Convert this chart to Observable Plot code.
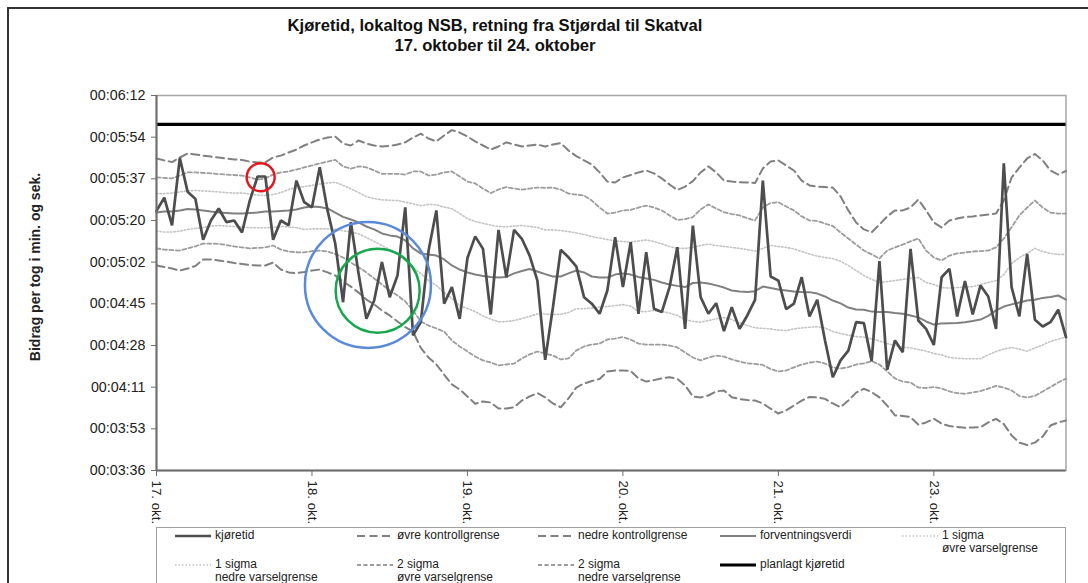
<!DOCTYPE html>
<html>
<head>
<meta charset="utf-8">
<script src="https://cdn.jsdelivr.net/npm/d3@7"></script>
<script src="https://cdn.jsdelivr.net/npm/@observablehq/plot@0.6"></script>
<style>
  body { margin: 0; background: #fff; font-family: "Liberation Sans", Arial, sans-serif; }
  #page { position: relative; width: 1088px; height: 583px; overflow: hidden; background: #fff; }
  #frame { position: absolute; left: 7px; top: 7px; width: 1200px; height: 700px; border: 2px solid #333; }
  #title { position: absolute; left: 0; top: 16px; width: 990px; text-align: center; font-weight: bold;
           font-size: 16.6px; line-height: 19.5px; color: #111; }
  #chart { position: absolute; left: 0; top: 60px; }
  #legend { position: absolute; left: 156px; top: 527px; width: 908px; height: 80px;
            border: 1.5px solid #a0a0a0; background: #fff; }
  .li { position: absolute; font-size: 12px; line-height: 13px; color: #222; white-space: nowrap; }
  .ls { position: absolute; }
</style>
</head>
<body>
<div id="page">
  <div id="frame"></div>
  <div id="title">Kjøretid, lokaltog NSB, retning fra Stjørdal til Skatval<br>17. oktober til 24. oktober</div>
  <div id="chart"></div>
  <div id="legend"></div>
</div>
<script>
// ---- data (seconds per train), one value per train ----
const kjoretid = [
  324, 329.5, 318, 346, 332, 329, 312, 320, 325, 319.3,
  320, 315, 328.3, 338.3, 338.3, 312, 320, 318, 336.6, 327.6,
  325.5, 342.2, 324.2, 310.3, 286, 319.3, 297.8, 279.1, 286.7, 302.7,
  288.1, 297.1, 325.5, 272.2, 277.7, 307.5, 324.2, 285.4, 292.3, 279.1,
  304.4, 313.4, 308.2, 280.9, 316.1, 296.4, 316.1, 312.4, 305.4, 295,
  262, 283.9, 307.8, 304.7, 300.9, 288.1, 285.4, 281.2, 290.9, 313.1,
  292.3, 311, 281.2, 306.8, 283.3, 281.9, 292.3, 308.9, 274.9, 317.9,
  288.1, 281.2, 285.6, 274, 283.9, 274.9, 280.5, 287, 336.6, 296.7,
  295, 283.1, 285.4, 296.4, 280.1, 287, 270.1, 254.8, 261.8, 265.9,
  277.7, 277.3, 261.5, 303.1, 257.9, 270.1, 265.2, 308.2, 278.4, 274.9,
  268.2, 296.4, 299.9, 280.1, 294.8, 280.9, 293, 288.4, 274.9, 343.8,
  292.3, 280.1, 306.1, 278.7, 275.9, 277.7, 282.9, 271.5
];
const forventningsverdi = [
  323.3, 323.7, 323.7, 324.2, 324.8, 324.6, 324.2, 323.7, 323.3, 323.1,
  322.9, 322.9, 323.1, 323.3, 323.7, 323.7, 324.0, 324.2, 324.6, 325.4,
  325.8, 325.6, 325.0, 323.3, 321.5, 320.4, 319.2, 317.5, 316.3, 314.6,
  313.8, 313.3, 311.7, 308.4, 306.3, 305.9, 305.4, 303.8, 301.3, 299.6,
  298.4, 297.5, 296.9, 296.5, 296.3, 296.5, 298.0, 299.0, 299.8, 298.8,
  297.7, 296.7, 296.7, 298.0, 299.2, 298.4, 296.7, 296.3, 296.3, 297.5,
  298.0, 297.5, 296.5, 295.9, 295.3, 294.2, 293.4, 292.8, 292.3, 294.0,
  294.2, 293.8, 293.0, 292.1, 290.9, 290.5, 290.3, 290.6, 292.5, 291.9,
  291.3, 290.9, 290.5, 290.3, 290.2, 289.6, 288.4, 286.7, 285.5, 283.8,
  283.0, 282.9, 282.1, 281.9, 281.9, 281.5, 281.2, 280.5, 279.7, 278.0,
  276.7, 277.2, 277.3, 277.4, 277.7, 278.2, 278.8, 280.3, 282.6, 284.2,
  285.1, 285.9, 286.7, 287.0, 287.8, 288.2, 288.8, 287.1
];
const ovreKontrollgrense = [
  345.8, 345.0, 344.3, 346.2, 347.9, 347.5, 347.0, 346.6, 346.2, 345.8,
  345.4, 345.2, 344.5, 344.1, 344.2, 346.2, 347.0, 348.3, 349.5, 351.2,
  352.5, 353.7, 354.5, 354.9, 352.0, 351.2, 353.3, 352.0, 351.2, 350.8,
  351.0, 351.6, 352.5, 354.5, 356.1, 354.1, 352.9, 355.4, 357.6, 356.6,
  354.9, 352.9, 351.2, 349.5, 350.8, 352.5, 351.6, 350.8, 351.2, 351.6,
  350.8, 351.6, 352.2, 349.1, 346.8, 345.0, 343.3, 340.0, 336.2, 335.8,
  337.9, 338.9, 340.0, 340.8, 339.6, 337.5, 335.0, 332.7, 334.1, 336.4,
  340.0, 342.5, 340.0, 336.6, 336.2, 335.9, 335.8, 335.6, 341.6, 344.5,
  345.0, 342.9, 340.8, 336.6, 334.6, 334.1, 333.9, 333.7, 330.0, 324.2,
  319.2, 316.3, 315.1, 318.3, 321.7, 324.2, 324.2, 325.4, 328.7, 324.2,
  319.2, 317.1, 320.0, 320.8, 321.5, 321.7, 322.1, 322.5, 322.9, 328.3,
  337.9, 342.0, 345.8, 347.7, 345.0, 340.8, 339.1, 340.6
];
const ovreVarsel2 = [
  337.9, 337.7, 337.5, 338.7, 340.0, 340.0, 339.8, 339.6, 339.3, 339.1,
  338.9, 338.7, 337.9, 337.0, 337.5, 339.1, 340.0, 340.4, 341.2, 342.1,
  342.9, 343.7, 344.5, 345.2, 342.5, 341.6, 342.5, 342.1, 340.8, 339.4,
  339.4, 339.4, 339.1, 340.4, 340.4, 338.7, 339.1, 340.0, 340.4, 338.3,
  336.2, 335.4, 333.3, 331.4, 332.9, 333.9, 333.3, 332.8, 333.3, 333.7,
  333.6, 333.7, 332.9, 331.2, 330.8, 330.4, 328.3, 325.4, 322.9, 323.3,
  324.2, 324.4, 325.4, 326.2, 325.4, 324.2, 322.1, 320.2, 320.6, 321.4,
  324.6, 326.7, 325.0, 323.5, 322.7, 322.1, 321.0, 320.0, 325.4, 327.3,
  327.6, 325.8, 324.2, 321.7, 320.0, 319.8, 318.7, 317.7, 315.0, 312.5,
  310.0, 307.5, 305.9, 304.2, 307.5, 308.8, 310.0, 311.3, 312.5, 307.5,
  304.6, 303.4, 305.4, 306.3, 306.7, 307.1, 307.3, 307.5, 308.8, 312.5,
  317.2, 322.1, 325.4, 328.3, 325.4, 323.3, 322.9, 322.9
];
const ovreVarsel1 = [
  331.2, 331.2, 331.4, 331.9, 332.3, 332.5, 332.3, 332.1, 331.9, 331.6,
  331.4, 331.4, 331.0, 330.6, 330.4, 330.8, 331.6, 332.9, 333.7, 334.1,
  334.6, 335.2, 335.6, 335.9, 334.6, 333.2, 331.6, 330.0, 329.1, 328.6,
  328.4, 328.3, 327.7, 326.9, 326.2, 326.7, 326.5, 325.6, 324.9, 322.9,
  320.8, 319.6, 318.8, 318.1, 317.5, 317.3, 317.7, 317.9, 317.5, 317.1,
  316.1, 316.1, 315.8, 315.4, 314.8, 314.2, 313.3, 312.7, 312.1, 311.5,
  311.3, 311.0, 311.5, 311.9, 311.3, 310.3, 309.2, 308.4, 308.4, 308.8,
  309.6, 310.2, 309.6, 309.2, 308.8, 308.4, 307.9, 307.3, 308.4, 309.6,
  309.2, 308.8, 308.2, 307.1, 306.1, 305.2, 304.6, 304.2, 303.0, 301.3,
  299.2, 297.1, 295.5, 294.2, 294.6, 295.0, 295.5, 295.9, 296.3, 294.2,
  293.4, 292.1, 291.9, 292.1, 292.3, 292.5, 293.4, 294.2, 295.0, 297.5,
  302.1, 304.6, 306.3, 308.4, 307.1, 306.3, 305.9, 305.9
];
const nedreVarsel1 = [
  315.6, 315.2, 315.2, 315.6, 316.3, 316.7, 317.1, 317.7, 317.9, 317.7,
  317.5, 317.3, 317.0, 317.0, 317.0, 317.1, 317.5, 317.3, 317.0, 316.3,
  316.5, 316.5, 316.5, 316.3, 315.8, 315.2, 314.5, 312.9, 311.3, 309.6,
  307.9, 306.3, 303.4, 300.4, 297.9, 295.0, 293.0, 290.0, 287.6, 284.6,
  283.4, 282.1, 280.3, 279.0, 277.8, 278.0, 278.4, 279.2, 280.1, 281.1,
  281.1, 280.9, 281.0, 281.7, 283.3, 283.3, 283.6, 284.0, 284.2, 284.6,
  285.0, 284.4, 282.1, 282.1, 282.6, 282.1, 281.5, 280.5, 278.8, 278.0,
  277.7, 278.4, 279.1, 279.6, 278.8, 277.4, 276.3, 275.4, 275.1, 274.9,
  274.4, 274.2, 274.9, 275.3, 275.6, 275.8, 275.3, 273.8, 273.0, 272.3,
  271.7, 271.5, 270.7, 269.9, 268.8, 268.0, 267.3, 267.0, 266.3, 265.7,
  264.7, 264.1, 263.0, 262.7, 262.5, 262.5, 262.5, 264.1, 265.5, 266.5,
  267.2, 266.5, 265.6, 267.0, 268.2, 269.7, 270.7, 271.5
];
const nedreVarsel2 = [
  308.4, 307.9, 307.7, 307.5, 308.4, 309.2, 310.4, 310.4, 310.3, 309.8,
  309.2, 308.8, 308.4, 308.6, 308.8, 309.6, 307.9, 307.1, 306.8, 306.7,
  307.3, 307.5, 307.1, 306.1, 304.6, 302.5, 300.6, 298.4, 295.9, 293.4,
  290.9, 288.8, 286.3, 282.6, 278.0, 276.3, 275.1, 273.8, 270.1, 267.6,
  265.5, 263.4, 261.8, 260.9, 259.7, 260.1, 260.5, 262.6, 264.3, 265.5,
  264.7, 263.8, 262.2, 262.6, 265.9, 267.6, 268.4, 268.8, 270.5, 270.9,
  271.5, 270.5, 268.8, 268.4, 268.4, 268.4, 268.0, 267.2, 265.1, 263.0,
  261.8, 263.0, 263.8, 263.4, 262.2, 261.3, 260.6, 260.3, 259.9, 258.2,
  257.2, 257.6, 258.9, 260.1, 260.9, 261.3, 260.5, 258.9, 258.4, 259.0,
  260.1, 260.6, 261.5, 260.1, 257.2, 254.3, 253.0, 252.6, 250.5, 250.3,
  250.7, 250.1, 248.9, 248.2, 247.9, 248.5, 249.0, 250.1, 251.2, 250.5,
  249.3, 247.0, 246.4, 247.0, 248.9, 250.7, 252.6, 254.2
];
const nedreKontrollgrense = [
  301.3, 300.7, 300.0, 299.2, 300.0, 301.1, 303.8, 303.8, 303.4, 302.9,
  302.3, 301.9, 301.5, 301.3, 301.3, 302.5, 299.6, 298.4, 298.1, 298.6,
  299.2, 299.6, 298.4, 297.1, 294.6, 292.5, 290.0, 287.1, 285.1, 282.6,
  280.5, 278.0, 275.6, 273.8, 267.0, 263.0, 260.1, 255.9, 251.8, 249.7,
  246.8, 243.8, 244.7, 244.3, 241.8, 241.8, 242.3, 245.1, 246.8, 248.2,
  246.4, 243.9, 242.3, 246.0, 250.5, 252.2, 253.2, 254.1, 257.2, 257.6,
  257.6, 257.4, 254.3, 253.0, 253.6, 254.3, 254.8, 254.1, 251.4, 246.8,
  246.4, 247.2, 248.9, 249.3, 246.5, 245.7, 245.3, 245.1, 243.9, 241.7,
  239.7, 241.0, 243.0, 245.1, 246.6, 246.4, 245.8, 243.9, 242.3, 245.1,
  248.4, 250.0, 248.6, 246.4, 243.0, 238.9, 238.7, 238.2, 235.1, 236.0,
  237.5, 235.5, 234.5, 234.1, 233.8, 233.9, 234.0, 236.0, 237.5, 235.3,
  230.6, 227.6, 226.6, 227.6, 230.1, 234.7, 236.0, 236.8
];
const planlagtKjoretid = 360;

// axis ticks
const dagStart = [0, 20, 40, 60, 80, 100];
const dagEtiketter = ["17. okt.", "18. okt.", "19. okt.", "20. okt.", "21. okt.", "23. okt."];
const yTickVerdier = [216, 233.33, 250.67, 268, 285.33, 302.67, 320, 337.33, 354.67, 372];
const yTickEtiketter = ["00:03:36", "00:03:53", "00:04:11", "00:04:28", "00:04:45",
                        "00:05:02", "00:05:20", "00:05:37", "00:05:54", "00:06:12"];

// highlight circles drawn on the chart (train index, seconds)
const markering = [
  {tog: 13.4, sek: 338.0, farge: "#e3191f"},
  {tog: 27.2, sek: 293.2, farge: "#5b8bd6"},
  {tog: 28.45, sek: 290.8, farge: "#16a84c"}
];

const stil = {
  kjoretid: {stroke: "#4d4d4d", strokeWidth: 2.7},
  kontroll: {stroke: "#808080", strokeWidth: 2, strokeDasharray: "8,4.5"},
  sigma2: {stroke: "#9c9c9c", strokeWidth: 1.8, strokeDasharray: "4,2.5"},
  sigma1: {stroke: "#c4c4c4", strokeWidth: 1.6, strokeDasharray: "1.5,2"},
  forv: {stroke: "#808080", strokeWidth: 2},
  plan: {stroke: "#000", strokeWidth: 3.2}
};

const chart = Plot.plot({
  width: 1088,
  height: 470,
  marginLeft: 156,
  marginRight: 22.5,
  marginTop: 35,
  marginBottom: 60,
  style: {fontFamily: "'Liberation Sans', Arial, sans-serif", color: "#222", background: "transparent"},
  x: {domain: [0, kjoretid.length - 1]},
  y: {domain: [216, 372]},
  color: {type: "identity"},
  marks: [
    Plot.frame({stroke: "#a6a6a6", strokeWidth: 1.5}),
    Plot.lineY(nedreKontrollgrense, {...stil.kontroll}),
    Plot.lineY(ovreKontrollgrense, {...stil.kontroll}),
    Plot.lineY(nedreVarsel2, {...stil.sigma2}),
    Plot.lineY(ovreVarsel2, {...stil.sigma2}),
    Plot.lineY(nedreVarsel1, {...stil.sigma1}),
    Plot.lineY(ovreVarsel1, {...stil.sigma1}),
    Plot.lineY(forventningsverdi, {...stil.forv}),
    Plot.lineY(kjoretid, {...stil.kjoretid, strokeLinejoin: "miter"}),
    Plot.ruleY([planlagtKjoretid], {...stil.plan}),
    Plot.ruleX([0], {stroke: "#6e6e6e", strokeWidth: 2}),
    Plot.ruleY([216], {stroke: "#6e6e6e", strokeWidth: 2}),
    Plot.axisY({ticks: yTickVerdier, tickFormat: d => yTickEtiketter[yTickVerdier.indexOf(d)],
      tickSize: 5, tickPadding: 6, fontSize: 14.3, label: null, stroke: "#6e6e6e"}),
    Plot.axisX({ticks: dagStart, tickFormat: d => dagEtiketter[dagStart.indexOf(d)],
      tickRotate: 90, tickSize: 6, tickPadding: 4, fontSize: 13.3, label: null, stroke: "#6e6e6e"}),
    Plot.text(["Bidrag per tog i min. og sek."], {frameAnchor: "left", textAnchor: "middle",
      lineAnchor: "middle", rotate: -90, dx: -121, dy: -16,
      fontWeight: "bold", fontSize: 14, fill: "#222"}),
    Plot.dot([markering[0]], {x: "tog", y: "sek", r: 14, stroke: "farge", strokeWidth: 2.5, fill: "none"}),
    Plot.dot([markering[1]], {x: "tog", y: "sek", r: 63, stroke: "farge", strokeWidth: 2.5, fill: "none"}),
    Plot.dot([markering[2]], {x: "tog", y: "sek", r: 42, stroke: "farge", strokeWidth: 2.5, fill: "none"})
  ]
});
document.getElementById("chart").appendChild(chart);

// ---- legend ----
const legendItems = [
  {text: "kjøretid", s: stil.kjoretid, col: 0, row: 0},
  {text: "øvre kontrollgrense", s: stil.kontroll, col: 1, row: 0},
  {text: "nedre kontrollgrense", s: stil.kontroll, col: 2, row: 0},
  {text: "forventningsverdi", s: stil.forv, col: 3, row: 0},
  {text: "1 sigma<br>øvre varselgrense", s: stil.sigma1, col: 4, row: 0},
  {text: "1 sigma<br>nedre varselgrense", s: stil.sigma1, col: 0, row: 1},
  {text: "2 sigma<br>øvre varselgrense", s: stil.sigma2, col: 1, row: 1},
  {text: "2 sigma<br>nedre varselgrense", s: stil.sigma2, col: 2, row: 1},
  {text: "planlagt kjøretid", s: stil.plan, col: 3, row: 1}
];
const colX = [18, 200, 381, 563, 745];
const rowY = [8, 37];
const legend = document.getElementById("legend");
for (const it of legendItems) {
  const x = colX[it.col], y = rowY[it.row];
  const svg = d3.create("svg").attr("class", "ls").attr("width", 38).attr("height", 10)
    .style("left", x + "px").style("top", (y - 5) + "px");
  svg.append("line").attr("x1", 0).attr("x2", 36).attr("y1", 5).attr("y2", 5)
    .attr("stroke", it.s.stroke).attr("stroke-width", it.s.strokeWidth)
    .attr("stroke-dasharray", it.s.strokeDasharray || null);
  legend.appendChild(svg.node());
  const t = document.createElement("div");
  t.className = "li";
  t.style.left = (x + 40) + "px";
  t.style.top = (y - 7) + "px";
  t.innerHTML = it.text;
  legend.appendChild(t);
}
</script>
</body>
</html>
